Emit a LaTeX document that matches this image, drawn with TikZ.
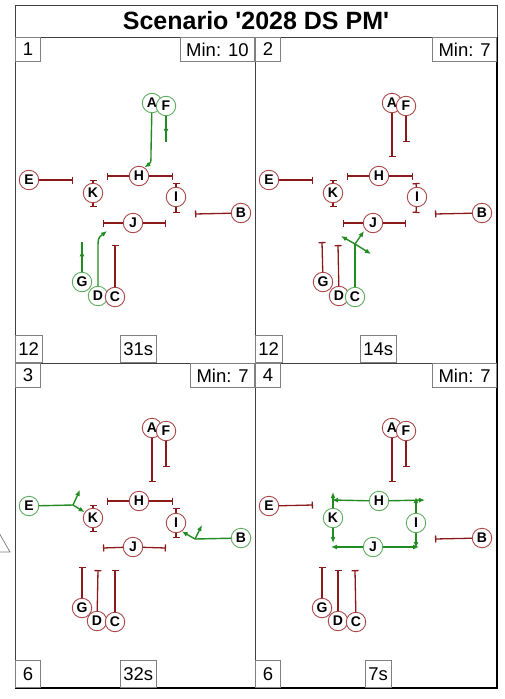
\documentclass[tikz,border=0pt]{standalone}
\usepackage{fontspec}
\setmainfont{Liberation Sans}[Ligatures=TeXOff]
\usepackage{xcolor}
\usetikzlibrary{arrows.meta,decorations.markings}
\definecolor{BarRed}{RGB}{139,26,26}
\definecolor{VehRed}{RGB}{168,72,72}
\definecolor{MoveGreen}{RGB}{34,139,34}
\definecolor{VehGreen}{RGB}{95,172,95}

\begin{document}
\begin{tikzpicture}[x=1pt, y=-1pt, >=Latex,
    rv/.style={circle, draw=VehRed, fill=white, line width=0.9pt, inner sep=0pt, minimum size=19.5pt, font=\bfseries\fontsize{14}{14}\selectfont},
    gv/.style={rv, draw=VehGreen},
    stopbar/.style={draw=BarRed, line width=1.3pt, -{Bar[width=7pt]}},
    move/.style={draw=MoveGreen, line width=1.4pt, -{Latex[length=6pt,width=5pt]}},
    midmove/.style={draw=MoveGreen, line width=1.4pt, postaction={decorate},
      decoration={markings, mark=at position 0.72 with {\arrow{Latex[length=6pt,width=5pt]}}}},
    tag/.style={draw=gray, fill=white, line width=0.8pt, inner xsep=3pt, inner ysep=0pt, minimum width=25pt, font=\fontsize{18.5}{19}\selectfont},
    mintag/.style={tag, inner xsep=6pt}]
  \useasboundingbox (0,0) rectangle (504,699);

  % frame and title
  \draw[line width=0.8pt, black!75] (15,5) rectangle (497,688);
  \draw[line width=1.6pt] (497,37) -- (497,688) -- (15,688);
  \draw[line width=0.8pt, black!75] (15,37) -- (497,37) (255,37) -- (255,688) (15,363) -- (497,363);
  \node[font=\bfseries\fontsize{25}{25}\selectfont] (title) at (256,21) {Scenario '2028 DS PM'};
  \draw[line width=0.8pt, gray] (-2,531) -- (10,552) -- (-12,552);

  % corner labels
  \node[tag, minimum height=24pt, anchor=north west] (n1) at (15,37) {1};
  \node[mintag, minimum height=24pt, anchor=north east] (m1) at (255,37) {Min: 10};
  \node[tag, minimum height=27pt, anchor=south west] (q1) at (15,363) {12};
  \node[tag, minimum height=27pt, anchor=south west] (t1) at (120,363) {31s};
  \node[tag, minimum height=24pt, anchor=north west] (n2) at (255,37) {2};
  \node[mintag, minimum height=24pt, anchor=north east] (m2) at (497,37) {Min: 7};
  \node[tag, minimum height=27pt, anchor=south west] (q2) at (255,363) {12};
  \node[tag, minimum height=27pt, anchor=south west] (t2) at (360,363) {14s};
  \node[tag, minimum height=24pt, anchor=north west] (n3) at (15,363) {3};
  \node[mintag, minimum height=24pt, anchor=north east] (m3) at (255,363) {Min: 7};
  \node[tag, minimum height=27pt, anchor=south west] (q3) at (15,688) {6};
  \node[tag, minimum height=27pt, anchor=south west] (t3) at (120,688) {32s};
  \node[tag, minimum height=24pt, anchor=north west] (n4) at (255,363) {4};
  \node[mintag, minimum height=24pt, anchor=north east] (m4) at (497,363) {Min: 7};
  \node[tag, minimum height=27pt, anchor=south west] (q4) at (255,688) {6};
  \node[tag, minimum height=27pt, anchor=south west] (t4) at (365,688) {7s};

  % stop bar ends, same place in every panel
  \foreach \p/\dx/\dy in {1/0/0, 2/240/0, 3/0/325, 4/240/325}{
    \begin{scope}[shift={(\dx,\dy)}]
      \coordinate (eS\p) at (73,180);  \coordinate (bS\p) at (195,214);
      \coordinate (hW\p) at (107,176); \coordinate (hE\p) at (173,176);
      \coordinate (kN\p) at (93,180);  \coordinate (kS\p) at (93,207);
      \coordinate (iN\p) at (176,183); \coordinate (iS\p) at (176,213);
      \coordinate (jW\p) at (103,223); \coordinate (jE\p) at (166,223);
      \coordinate (aS\p) at (152,157); \coordinate (fS\p) at (166,142);
      \coordinate (gS\p) at (82,242);  \coordinate (dS\p) at (98,245);
      \coordinate (cS\p) at (115,245);
    \end{scope}}

  % panel 1
  \foreach \n/\x/\y/\s in {A/152/103/gv, F/166/106/gv, E/29/180/rv, H/139/176/rv, K/93/193/rv, I/176/197/rv,
      B/241/213/rv, J/133/223/rv, G/82/282/gv, D/98/296/gv, C/115/297/rv}
    \node[\s] (\n1) at (\x,\y) {\n};
  \coordinate (aB1) at (151,152);
  \coordinate (dB1) at (98,249);
  \coordinate (dT1) at (107,231);
  \draw[stopbar] (E1) -- (eS1);
  \draw[stopbar] (H1) -- (hW1); \draw[stopbar] (H1) -- (hE1);
  \draw[stopbar] (K1) -- (kN1); \draw[stopbar] (K1) -- (kS1);
  \draw[stopbar] (I1) -- (iN1); \draw[stopbar] (I1) -- (iS1);
  \draw[stopbar] (B1) -- (bS1);
  \draw[stopbar] (J1) -- (jW1); \draw[stopbar] (J1) -- (jE1);
  \draw[stopbar] (C1) -- (cS1);
  \draw[move] (A1) -- (aB1) .. controls (151,163) .. (H1.58);
  \draw[midmove] (F1) -- (fS1);
  \draw[midmove] (G1) -- (gS1);
  \draw[move] (D1) -- (dB1) .. controls (98,238) .. (dT1);

  % panel 2
  \begin{scope}[shift={(240,0)}]
    \foreach \n/\x/\y/\s in {A/152/103/rv, F/166/106/rv, E/29/180/rv, H/139/176/rv, K/93/193/rv, I/177/197/rv,
        B/242/213/rv, J/133/223/rv, G/83/282/rv, D/99/296/rv, C/115/297/gv}
      \node[\s] (\n2) at (\x,\y) {\n};
    \coordinate (cX2) at (115,244);
    \coordinate (cNW2) at (101,236);
    \coordinate (cNE2) at (124,231);
    \coordinate (cSE2) at (131,254);
  \end{scope}
  \draw[stopbar] (A2) -- (aS2); \draw[stopbar] (F2) -- (fS2);
  \draw[stopbar] (E2) -- (eS2);
  \draw[stopbar] (H2) -- (hW2); \draw[stopbar] (H2) -- (hE2);
  \draw[stopbar] (K2) -- (kN2); \draw[stopbar] (K2) -- (kS2);
  \draw[stopbar] (I2) -- (iN2); \draw[stopbar] (I2) -- (iS2);
  \draw[stopbar] (B2) -- (bS2);
  \draw[stopbar] (J2) -- (jW2); \draw[stopbar] (J2) -- (jE2);
  \draw[stopbar] (G2) -- (gS2); \draw[stopbar] (D2) -- (dS2);
  \draw[move, -] (C2) -- (cX2);
  \draw[move] (cX2) -- (cNW2);
  \draw[move] (cX2) -- (cNE2);
  \draw[move] (cX2) -- (cSE2);

  % panel 3
  \begin{scope}[shift={(0,325)}]
    \foreach \n/\x/\y/\s in {A/152/103/rv, F/166/106/rv, E/29/181/gv, H/139/176/rv, K/93/193/rv, I/176/198/rv,
        B/241/213/gv, J/133/222/rv, G/82/283/rv, D/97/296/rv, C/115/297/rv}
      \node[\s] (\n3) at (\x,\y) {\n};
    \coordinate (eUp3) at (80,165);
    \coordinate (bUp3) at (202,200);
  \end{scope}
  \draw[stopbar] (A3) -- (aS3); \draw[stopbar] (F3) -- (fS3);
  \draw[stopbar] (H3) -- (hW3); \draw[stopbar] (H3) -- (hE3);
  \draw[stopbar] (K3) -- (kN3); \draw[stopbar] (K3) -- (kS3);
  \draw[stopbar] (I3) -- (iN3); \draw[stopbar] (I3) -- (iS3);
  \draw[stopbar] (J3) -- (jW3); \draw[stopbar] (J3) -- (jE3);
  \draw[stopbar] (G3) -- (gS3); \draw[stopbar] (D3) -- (dS3); \draw[stopbar] (C3) -- (cS3);
  \draw[move, -] (E3) -- (eS3);
  \draw[move] (eS3) -- (eUp3);
  \draw[move] (eS3) -- (K3.145);
  \draw[move, -] (B3) -- (bS3);
  \draw[move] (bS3) -- (bUp3);
  \draw[move] (bS3) -- (I3.-55);

  % panel 4
  \begin{scope}[shift={(240,325)}]
    \foreach \n/\x/\y/\s in {A/152/103/rv, F/166/106/rv, E/29/181/rv, H/139/176/gv, K/93/193/gv, I/176/198/gv,
        B/242/213/rv, J/133/222/gv, G/82/283/rv, D/98/296/rv, C/116/297/rv}
      \node[\s] (\n4) at (\x,\y) {\n};
    \coordinate (hL4) at (92,175);  \coordinate (hR4) at (185,175);
    \coordinate (kU4) at (93,167);  \coordinate (kD4) at (93,218);
    \coordinate (iU4) at (176,172); \coordinate (iD4) at (176,223);
    \coordinate (jL4) at (91,222);  \coordinate (jR4) at (179,222);
  \end{scope}
  \draw[stopbar] (A4) -- (aS4); \draw[stopbar] (F4) -- (fS4);
  \draw[stopbar] (E4) -- (eS4);
  \draw[stopbar] (B4) -- (bS4);
  \draw[stopbar] (G4) -- (gS4); \draw[stopbar] (D4) -- (dS4); \draw[stopbar] (C4) -- (cS4);
  \draw[move] (H4) -- (hL4); \draw[move] (H4) -- (hR4);
  \draw[move] (K4) -- (kU4); \draw[move] (K4) -- (kD4);
  \draw[move] (I4) -- (iU4); \draw[move] (I4) -- (iD4);
  \draw[move] (J4) -- (jL4); \draw[move] (J4) -- (jR4);
\end{tikzpicture}
\end{document}
